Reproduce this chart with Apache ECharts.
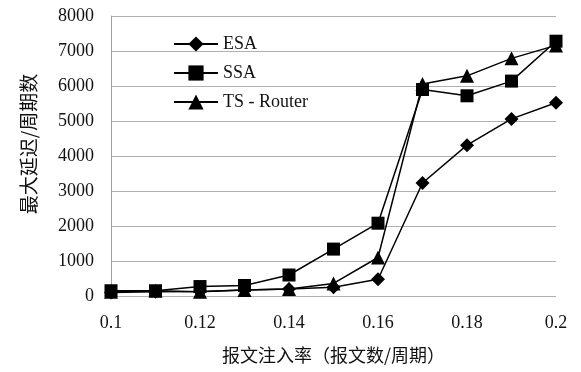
<!DOCTYPE html>
<html><head><meta charset="utf-8">
<script src="https://cdn.jsdelivr.net/npm/echarts@6/dist/echarts.min.js"></script>
<style>html,body{margin:0;padding:0;background:#fff}#c{width:581px;height:372px}</style>
</head><body><div id="c"></div>
<script>
const categories = ['0.1','0.11','0.12','0.13','0.14','0.15','0.16','0.17','0.18','0.19','0.2'];
const esa = [100, 120, 130, 170, 200, 250, 480, 3230, 4310, 5060, 5520];
const ssa = [150, 150, 270, 300, 600, 1340, 2080, 5900, 5720, 6140, 7280];
const tsRouter = [120, 150, 120, 170, 200, 360, 1100, 6060, 6290, 6790, 7160];
const yTicks = {min: 0, max: 8000, interval: 1000};
const xTitle = '报文注入率（报文数/周期）';
const yTitle = '最大延迟/周期数';

const serif = '"Liberation Serif","Times New Roman",serif';
const cjk = '"Noto Sans CJK SC","Liberation Serif",serif';
const chart = echarts.init(document.getElementById('c'));
const mk = (name, data, symbol, size) => ({
  name, type: 'line', data, symbol, symbolSize: size,
  lineStyle: {color: '#000', width: 1.5},
  itemStyle: {color: '#000'},
  emphasis: {disabled: true}, animation: false
});
chart.setOption({
  animation: false,
  grid: {left: 111, right: 25, top: 16, bottom: 76},
  legend: {
    orient: 'vertical', left: 168, top: 30, itemGap: 11,
    itemWidth: 44, itemHeight: 19,
    textStyle: {fontFamily: serif, fontSize: 18, color: '#111'},
    data: ['ESA', 'SSA', 'TS-Router'],
    formatter: n => n === 'TS-Router' ? 'TS - Router' : n
  },
  xAxis: {
    type: 'category', data: categories, boundaryGap: false,
    name: xTitle, nameLocation: 'middle', nameGap: 50,
    nameTextStyle: {fontFamily: cjk, fontSize: 18, color: '#111', verticalAlign: 'top'},
    axisLine: {show: false}, axisTick: {show: false},
    axisLabel: {interval: 1, fontFamily: serif, fontSize: 18, color: '#111', margin: 18},
    splitLine: {show: false}
  },
  yAxis: {
    type: 'value', min: yTicks.min, max: yTicks.max, interval: yTicks.interval,
    name: yTitle, nameLocation: 'middle', nameGap: 73, nameRotate: 90,
    nameTextStyle: {fontFamily: cjk, fontSize: 19, color: '#111', padding: [0, 0, 0, 24]},
    axisLine: {show: true, lineStyle: {color: '#a0a0a0', width: 1}},
    axisTick: {show: false},
    axisLabel: {fontFamily: serif, fontSize: 18, color: '#111', margin: 17,
      formatter: v => String(v)},
    splitLine: {lineStyle: {color: '#b0b0b0', width: 1}}
  },
  series: [
    mk('ESA', esa, 'diamond', 14),
    mk('SSA', ssa, 'rect', 13),
    mk('TS-Router', tsRouter, 'triangle', 14)
  ]
});
</script></body></html>
